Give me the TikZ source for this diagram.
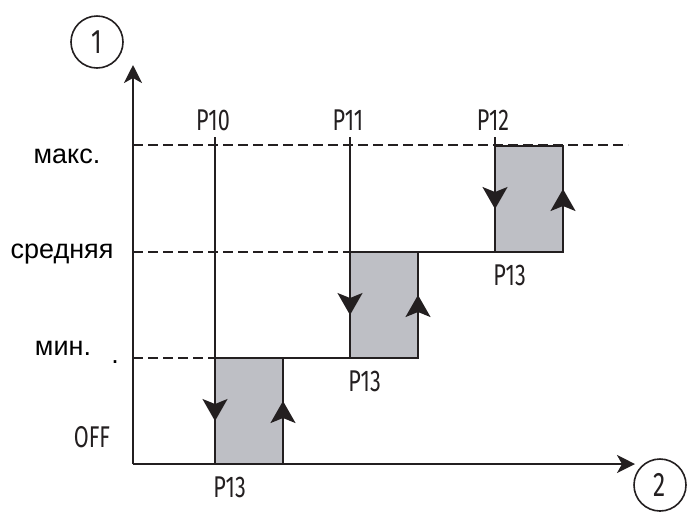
\documentclass[tikz,border=0pt]{standalone}
\usepackage{fontspec}
\setmainfont{Liberation Sans}
\newfontfamily\pfont[FakeStretch=0.72]{Fira Sans}
\usetikzlibrary{arrows.meta,calc,backgrounds}
\definecolor{boxgray}{HTML}{BEBFC5}
\definecolor{inkgray}{HTML}{231F20}
\tikzset{
  axisline/.style={draw=inkgray, line width=1pt, -{Stealth[length=9pt, width=9pt, inset=2.5pt]}},
  levelline/.style={draw=inkgray, line width=0.9pt, dash pattern=on 5pt off 2.5pt},
  stepline/.style={draw=inkgray, line width=0.9pt},
  hystbox/.style={draw=inkgray, fill=boxgray, line width=0.9pt, minimum width=34pt,
    minimum height=53pt, inner sep=0pt, outer sep=0pt},
  dirtip/.style={draw=inkgray, line width=0.9pt, -{Stealth[length=11pt, width=12.5pt, inset=2.5pt]}},
  plab/.style={font=\pfont\fontsize{15}{15}\selectfont, text=inkgray, inner sep=0pt},
  levlab/.style={font=\fontsize{13.5}{14}\selectfont, inner sep=0pt},
  axisnum/.style={circle, draw=inkgray, line width=0.8pt, minimum size=26pt, inner sep=0pt,
    font=\pfont\fontsize{17}{17}\selectfont, text=inkgray},
}
\begin{document}
\begin{tikzpicture}[x=0.5pt, y=-0.5pt]
\useasboundingbox (0,0) rectangle (688,511);
% axes
\coordinate (o) at (133,464);
\coordinate (ytip) at (133,65);
\coordinate (xtip) at (635,464);
\draw[axisline] (o) -- (ytip);
\draw[axisline] (o) -- (xtip);
\node[axisnum] (n1) at (97,42) {1};
\node[axisnum] (n2) at (660,485) {2};
% levels on the vertical axis
\coordinate (lvmin) at (133,358);
\coordinate (lvmid) at (133,252);
\coordinate (lvmax) at (133,145);
\coordinate (lvend) at (628,145);
\node[levlab, anchor=base] (lmax) at (67,163) {макс.};
\node[levlab, anchor=base] (lmid) at (62,258) {средняя};
\node[levlab, anchor=base] (lmin) at (63,355) {мин.};
\node[levlab, anchor=base] (ldot) at (115,363) {.};
\node[plab, anchor=base] (loff) at (92,447) {OFF};
% the three steps
\foreach \n/\x/\y in {1/215/464, 2/350/358, 3/495/252}
  \node[hystbox, anchor=south west] (b\n) at (\x,\y) {};
% dashed levels
\begin{scope}[on background layer]
\draw[levelline] (lvmax) -- (lvend);
\draw[levelline] (lvmid) -- (b2.north west);
\draw[levelline] (lvmin) -- (b1.north west);
\end{scope}
\draw[stepline] (b1.north east) -- (b2.south west);
\draw[stepline] (b2.north east) -- (b3.south west);
% set points
\node[plab, anchor=base] (p10) at (213,130) {P10};
\node[plab, anchor=base] (p11) at (348,130) {P11};
\node[plab, anchor=base] (p12) at (493,130) {P12};
\foreach \n in {1,2,3} {
  \draw[stepline] (b\n.north west |- 0,137) -- (b\n.north west);
  \draw[dirtip] (b\n.north west) -- ($(b\n.west)+(0,10)$);
  \draw[dirtip] (b\n.south east) -- ($(b\n.east)+(0,-10)$);
  \node[plab, anchor=base west] (r\n) at ($(b\n.south west)+(-2,33)$) {P13};
}
\end{tikzpicture}
\end{document}
